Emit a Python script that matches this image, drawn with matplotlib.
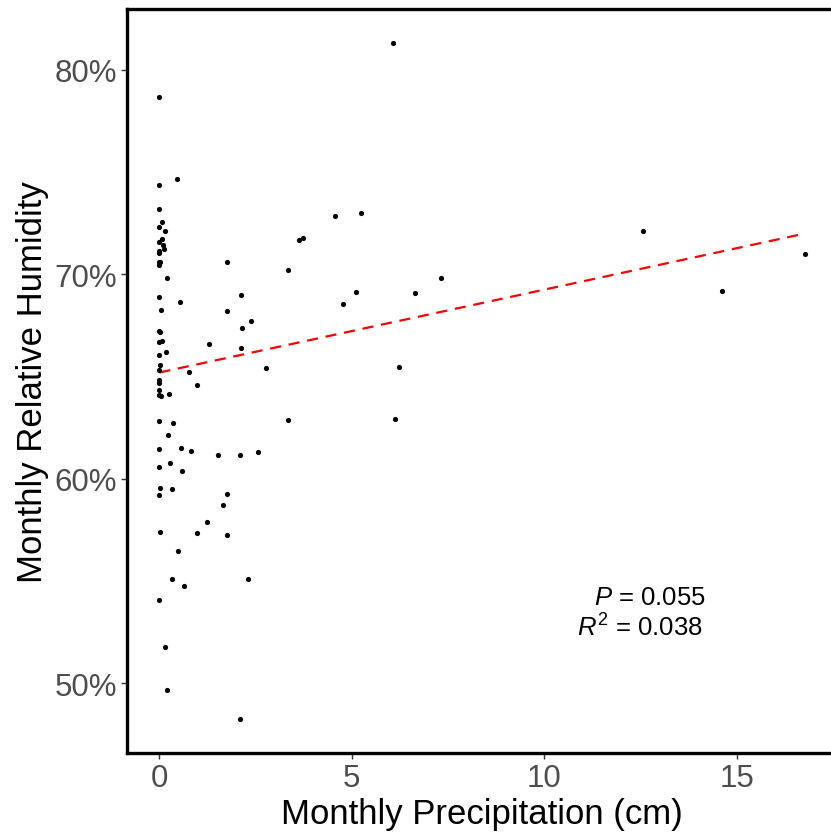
import matplotlib
matplotlib.use("Agg")
import matplotlib.pyplot as plt
from matplotlib.ticker import FuncFormatter

plt.rcParams['font.family'] = ['Liberation Sans', 'DejaVu Sans']
plt.rcParams['mathtext.fontset'] = 'custom'
plt.rcParams['mathtext.rm'] = 'Liberation Sans'
plt.rcParams['mathtext.it'] = 'Liberation Sans:italic'

# Monthly precipitation (cm)
precip = [0, 0.46, 0, 0, 0.06, 0, 0.14, 0.06, 0, 0.10, 0.12, 0, 0, 0, 0.01, 0,
          1.77, 0.21, 0, 0.54, 2.11, 0.05, 1.75, 2.37, 2.14, 0, 0.02, 0, 0.06,
          1.28, 2.11, 0.17, 0, 0.02, 2.78, 0, 0.78, 0, 0, 0.99, 0, 0, 0.05, 0.25,
          0, 0.35, 0.23, 0, 0.55, 0.82, 1.53, 2.10, 2.57, 0, 0.28, 0.58, 0.02,
          0.34, 0, 1.75, 1.65, 1.23, 0.01, 0.98, 1.77, 0.48, 0.32, 0.63, 2.30, 0,
          0.14, 0.20, 2.10, 4.56, 5.23, 3.62, 3.74, 3.35, 5.11, 4.76, 6.64, 7.31,
          6.22, 3.35, 6.12, 6.06, 12.55, 14.60, 16.77]
# Monthly relative humidity (%)
humidity = [78.68, 74.66, 74.37, 73.20, 72.55, 72.30, 72.10, 71.73, 71.57, 71.43,
            71.24, 71.15, 71.04, 70.62, 70.62, 70.47, 70.60, 69.82, 68.89, 68.64,
            68.99, 68.25, 68.20, 67.70, 67.37, 67.21, 67.18, 66.69, 66.74, 66.59,
            66.39, 66.20, 66.05, 65.56, 65.41, 65.30, 65.22, 64.81, 64.68, 64.58,
            64.34, 64.09, 64.03, 64.14, 62.82, 62.72, 62.13, 61.45, 61.50, 61.35,
            61.16, 61.16, 61.30, 60.58, 60.78, 60.37, 59.54, 59.49, 59.20, 59.25,
            58.71, 57.88, 57.39, 57.34, 57.24, 56.46, 55.09, 54.74, 55.09, 54.06,
            51.76, 49.66, 48.23, 72.85, 73.00, 71.68, 71.78, 70.21, 69.13, 68.55,
            69.08, 69.82, 65.46, 62.87, 62.92, 81.32, 72.12, 69.18, 70.99]

# Fitted regression line (endpoints)
fit_x = [0.0, 16.77]
fit_y = [65.2, 72.0]

x_ticks = [0, 5, 10, 15]
y_ticks = [50, 60, 70, 80]

fig = plt.figure(figsize=(8.31, 8.37), dpi=100)
ax = fig.add_axes([0.1528, 0.0990, 1.0078 - 0.1528, 0.9878 - 0.0990])

ax.scatter(precip, humidity, s=14, color='black', linewidths=0, zorder=3)
ax.plot(fit_x, fit_y, color='red', linestyle=(0, (5, 3.5)), linewidth=1.6, zorder=2)

ax.set_xlim(-0.84, 17.61)
ax.set_ylim(46.58, 82.97)
ax.set_xticks(x_ticks)
ax.set_yticks(y_ticks)
ax.yaxis.set_major_formatter(FuncFormatter(lambda v, p: f"{v:.0f}%"))

for side in ['left', 'bottom', 'top', 'right']:
    ax.spines[side].set_linewidth(2.4)
    ax.spines[side].set_color('black')

ax.tick_params(axis='both', which='major', length=4, width=1.0, color='#333333',
               labelsize=22.5, labelcolor='#4D4D4D', pad=3)

ax.set_xlabel("Monthly Precipitation (cm)", fontsize=25, color='black', labelpad=3)
ax.set_ylabel("Monthly Relative Humidity", fontsize=25, color='black', labelpad=4)

ax.text(14.2, 53.86, r"$\it{P}$ = 0.055", ha='right', va='baseline', fontsize=18.5, color='black')
ax.text(14.12, 52.34, r"$\it{R}^{2}$ = 0.038", ha='right', va='baseline', fontsize=18.5, color='black')

fig.savefig("out.png", dpi=100)
